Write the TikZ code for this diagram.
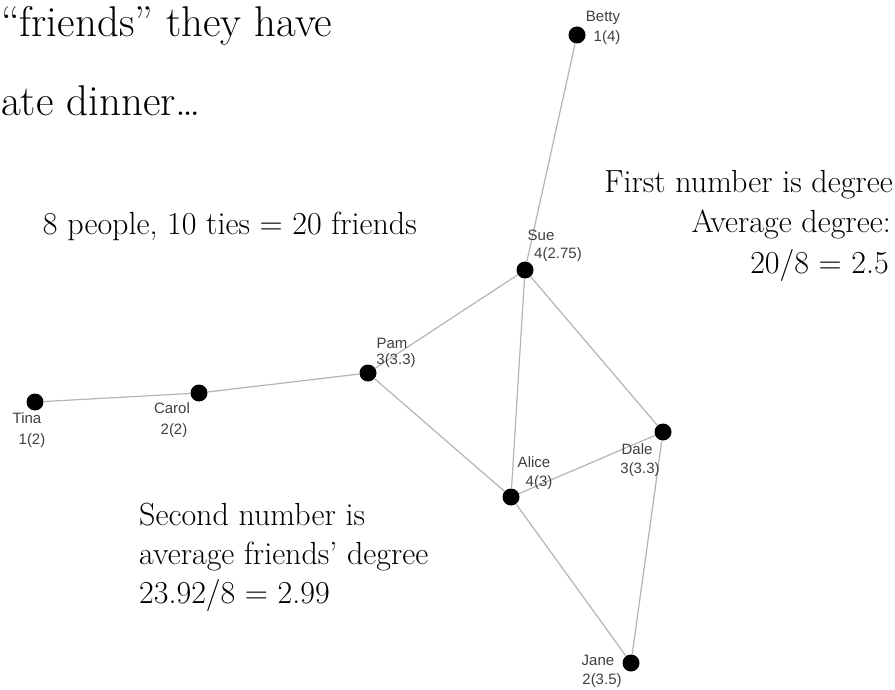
\documentclass[tikz,border=0pt]{standalone}
\usepackage{fontspec}
\newfontfamily\labelfont{Liberation Sans}
\definecolor{tiegray}{HTML}{B4B4B4}
\definecolor{lblgray}{HTML}{404040}
\begin{document}
\begin{tikzpicture}[x=1pt,y=-1pt,
  person/.style={circle,fill=black,inner sep=0pt,minimum size=17pt},
  tie/.style={draw=tiegray,line width=1.2pt},
  lbl/.style={font=\labelfont\fontsize{15}{17}\selectfont,text=lblgray,inner sep=0pt},
  big/.style={font=\fontsize{32}{38}\selectfont,inner sep=0pt},
  huge/.style={font=\fontsize{43}{50}\selectfont,inner sep=0pt}
]
\useasboundingbox (0,0) rectangle (895,690);

% people
\node[person] (betty) at (577,35) {};
\node[person] (sue) at (525,270) {};
\node[person] (pam) at (368,373) {};
\node[person] (carol) at (199,393) {};
\node[person] (tina) at (35,402) {};
\node[person] (alice) at (511,497) {};
\node[person] (dale) at (663,432) {};
\node[person] (jane) at (631,663) {};

% ties
\draw[tie] (betty) -- (sue);
\draw[tie] (sue) -- (pam);
\draw[tie] (sue) -- (alice);
\draw[tie] (sue) -- (dale);
\draw[tie] (pam) -- (carol);
\draw[tie] (carol) -- (tina);
\draw[tie] (pam) -- (alice);
\draw[tie] (alice) -- (dale);
\draw[tie] (alice) -- (jane);
\draw[tie] (dale) -- (jane);

% labels
\node[lbl] (lbetty) at (603,18) {Betty};
\node[lbl] (dbetty) at (607,38) {1(4)};
\node[lbl] (lsue) at (541,235) {Sue};
\node[lbl] (dsue) at (558,255) {4(2.75)};
\node[lbl] (lpam) at (392,343) {Pam};
\node[lbl] (dpam) at (396,361) {3(3.3)};
\node[lbl] (lcarol) at (172,408) {Carol};
\node[lbl] (dcarol) at (174,431) {2(2)};
\node[lbl] (ltina) at (27,418) {Tina};
\node[lbl] (dtina) at (32,441) {1(2)};
\node[lbl] (lalice) at (534,462) {Alice};
\node[lbl] (dalice) at (539,483) {4(3)};
\node[lbl] (ldale) at (637,449) {Dale};
\node[lbl] (ddale) at (640,470) {3(3.3)};
\node[lbl] (ljane) at (598,660) {Jane};
\node[lbl] (djane) at (602,681) {2(3.5)};

% slide text
\node[huge,anchor=base west] (t1) at (1,37) {“friends” they have};
\node[huge,anchor=base west] (t2) at (1,116) {ate dinner\ldots};
\node[big,anchor=base east] (t3) at (417,235) {8 people, 10 ties = 20 friends};
\node[big,anchor=base east] (r1) at (893,193) {First number is degree};
\node[big,anchor=base east] (r2) at (891,233) {Average degree:};
\node[big,anchor=base east] (r3) at (889,273) {20/8 = 2.5};
\node[big,anchor=base west] (s1) at (139,525) {Second number is};
\node[big,anchor=base west] (s2) at (139,564) {average friends’ degree};
\node[big,anchor=base west] (s3) at (139,603) {23.92/8 = 2.99};
\end{tikzpicture}
\end{document}
